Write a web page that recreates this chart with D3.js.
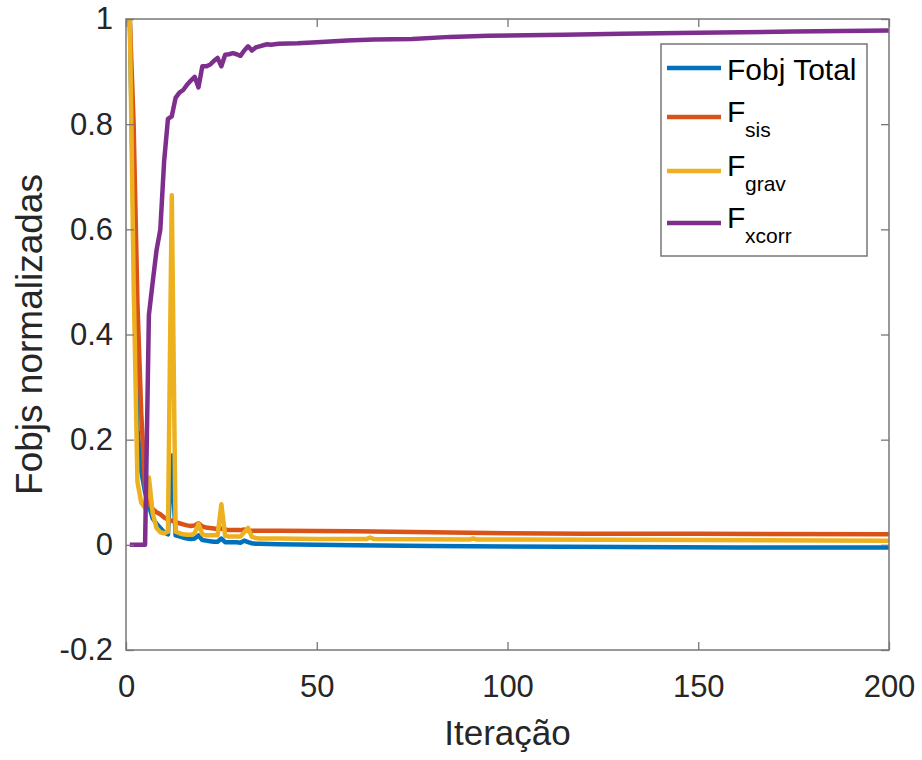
<!DOCTYPE html>
<html>
<head>
<meta charset="utf-8">
<script src="https://cdn.jsdelivr.net/npm/d3@7"></script>
<style>
  body { margin: 0; background: #fff; }
  #chart { width: 922px; height: 760px; }
  text { font-family: "Liberation Sans", Arial, sans-serif; }
</style>
</head>
<body>
<div id="chart"></div>
<script>
// ---- data (breakpoints per series) ----
const iterTotal = [1,2,3,4,5,6,7,8,9,10,11,12,13,14,15,16,17,18,19,20,21,22,23,24,25,26,27,28,29,30,31,32,33,34,35,40,50,60,80,100,130,160,200];
const fobjTotal = [1.0,0.6,0.22,0.14,0.1,0.075,0.05,0.04,0.032,0.024,0.02,0.17,0.018,0.016,0.014,0.012,0.011,0.012,0.018,0.009,0.008,0.007,0.006,0.006,0.012,0.005,0.005,0.005,0.005,0.004,0.008,0.005,0.003,0.002,0.002,0.001,0.0,-0.001,-0.002,-0.003,-0.004,-0.005,-0.005];

const iterSis = [1,2,3,4,5,6,7,8,9,10,11,12,13,14,15,16,17,18,19,20,21,22,23,24,25,26,27,30,31,32,40,60,80,100,120,150,200];
const fSis = [1.0,0.8,0.46,0.25,0.11,0.08,0.068,0.062,0.058,0.052,0.048,0.046,0.043,0.041,0.039,0.037,0.036,0.037,0.041,0.035,0.033,0.032,0.031,0.03,0.031,0.029,0.028,0.028,0.029,0.027,0.027,0.026,0.024,0.022,0.021,0.021,0.02];

const iterGrav = [1,2,3,4,5,6,7,8,9,10,11,12,13,14,15,16,17,18,19,20,21,24,25,26,27,30,31,32,33,34,35,40,50,63,64,65,90,91,92,100,150,200];
const fGrav = [1.0,0.5,0.12,0.08,0.07,0.128,0.06,0.032,0.024,0.022,0.025,0.665,0.025,0.022,0.02,0.019,0.019,0.022,0.04,0.02,0.018,0.018,0.077,0.017,0.016,0.016,0.024,0.032,0.015,0.013,0.012,0.012,0.011,0.011,0.014,0.011,0.01,0.012,0.01,0.01,0.009,0.008];

const iterXcorr = [1,5,6,7,8,9,10,11,12,13,14,15,16,17,18,19,20,21,22,23,24,25,26,27,28,29,30,31,32,33,34,35,36,37,38,39,40,45,50,58,65,75,85,95,105,115,130,150,175,200];
const fXcorr = [0,0,0.437,0.5,0.56,0.6,0.73,0.81,0.815,0.85,0.86,0.865,0.875,0.883,0.89,0.87,0.91,0.91,0.913,0.92,0.926,0.91,0.932,0.933,0.935,0.933,0.93,0.94,0.948,0.94,0.946,0.948,0.95,0.952,0.951,0.952,0.953,0.954,0.956,0.959,0.961,0.962,0.966,0.968,0.969,0.970,0.972,0.974,0.976,0.978];

const xTicks = [0, 50, 100, 150, 200];
const yTicks = [-0.2, 0, 0.2, 0.4, 0.6, 0.8, 1];

const series = [
    { name: 'Fobj Total', sub: null, iters: iterTotal, vals: fobjTotal, color: '#0072BD' },
    { name: 'F', sub: 'sis', iters: iterSis, vals: fSis, color: '#D95319' },
    { name: 'F', sub: 'grav', iters: iterGrav, vals: fGrav, color: '#EDB120' },
    { name: 'F', sub: 'xcorr', iters: iterXcorr, vals: fXcorr, color: '#7E2F8E' }
];

const width = 922, height = 760;
const margin = { top: 19, right: 33, bottom: 110, left: 126 };

const svg = d3.select('#chart').append('svg')
    .attr('width', width)
    .attr('height', height);

const x = d3.scaleLinear().domain([0, 200]).range([margin.left, width - margin.right]);
const y = d3.scaleLinear().domain([-0.2, 1]).range([height - margin.bottom, margin.top]);

const axisColor = '#777';
const textColor = '#262626';

// plot lines
const line = d3.line().x(d => x(d[0])).y(d => y(d[1]));
series.forEach(s => {
    svg.append('path')
        .datum(s.iters.map((it, i) => [it, s.vals[i]]))
        .attr('fill', 'none')
        .attr('stroke', s.color)
        .attr('stroke-width', 4.5)
        .attr('stroke-linejoin', 'round')
        .attr('d', line);
});

// axes (ticks point inward, MATLAB style)
function styleAxis(g) {
    g.select('.domain').remove();
    g.selectAll('.tick line').attr('stroke', axisColor).attr('stroke-width', 1.3);
    g.selectAll('.tick text').attr('fill', textColor).style('font-size', '31px');
}

svg.append('g')
    .attr('transform', `translate(0,${y(-0.2)})`)
    .call(d3.axisBottom(x).tickValues(xTicks).tickSize(-8).tickPadding(25).tickFormat(d3.format('d')))
    .call(styleAxis);

svg.append('g')
    .attr('transform', `translate(0,${y(1)})`)
    .call(d3.axisTop(x).tickValues(xTicks).tickSize(-8).tickFormat(''))
    .call(styleAxis);

// plain hyphen for negatives, like the original
svg.append('g')
    .attr('transform', `translate(${x(0)},0)`)
    .call(d3.axisLeft(y).tickValues(yTicks).tickSize(-8).tickPadding(13).tickFormat(d => String(+d.toFixed(1))))
    .call(styleAxis);

svg.append('g')
    .attr('transform', `translate(${x(200)},0)`)
    .call(d3.axisRight(y).tickValues(yTicks).tickSize(-8).tickFormat(''))
    .call(styleAxis);

// box
svg.append('rect')
    .attr('x', x(0))
    .attr('y', y(1))
    .attr('width', x(200) - x(0))
    .attr('height', y(-0.2) - y(1))
    .attr('fill', 'none')
    .attr('stroke', axisColor)
    .attr('stroke-width', 1.5);

// axis labels
svg.append('text')
    .attr('x', (x(0) + x(200)) / 2)
    .attr('y', 745)
    .attr('text-anchor', 'middle')
    .attr('fill', textColor)
    .style('font-size', '35px')
    .text('Iteração');

svg.append('text')
    .attr('transform', 'rotate(-90)')
    .attr('x', -(y(1) + y(-0.2)) / 2)
    .attr('y', 42)
    .attr('text-anchor', 'middle')
    .attr('fill', textColor)
    .style('font-size', '37px')
    .text('Fobjs normalizadas');

// legend
const legend = svg.append('g');
legend.append('rect')
    .attr('x', 661).attr('y', 44)
    .attr('width', 206).attr('height', 212)
    .attr('fill', '#fff')
    .attr('stroke', axisColor)
    .attr('stroke-width', 1.5);

const rowY = [68, 117, 171, 223];
series.forEach((s, i) => {
    const ly = rowY[i];
    legend.append('line')
        .attr('x1', 667).attr('x2', 721)
        .attr('y1', ly).attr('y2', ly)
        .attr('stroke', s.color)
        .attr('stroke-width', 4.5);
    legend.append('text')
        .attr('x', 727)
        .attr('y', s.sub ? ly + 5 : ly + 12)
        .attr('fill', '#000')
        .style('font-size', '30px')
        .text(s.name);
    if (s.sub) {
        legend.append('text')
            .attr('x', 745)
            .attr('y', ly + 20)
            .attr('fill', '#000')
            .style('font-size', '21px')
            .text(s.sub);
    }
});
</script>
</body>
</html>
